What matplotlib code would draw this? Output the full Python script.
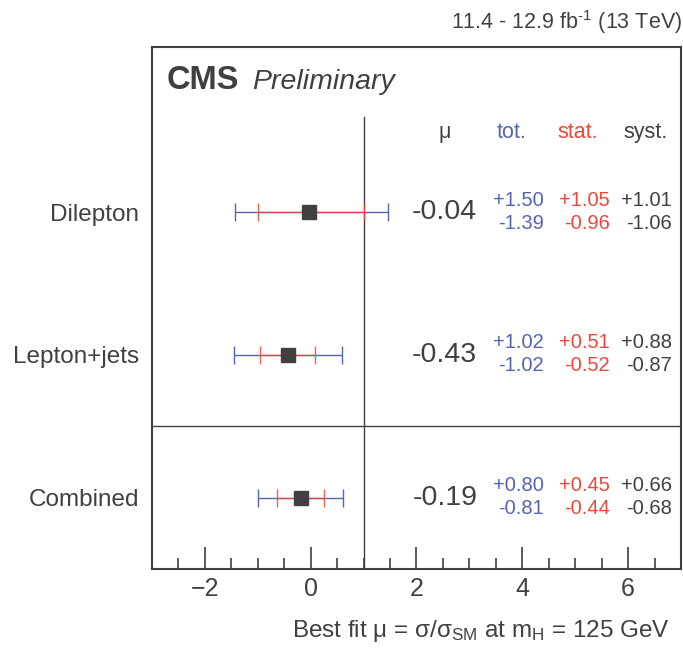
import matplotlib.pyplot as plt
from matplotlib.ticker import MultipleLocator

plt.rcParams['font.family'] = ['Liberation Sans', 'DejaVu Sans']
plt.rcParams['mathtext.fontset'] = 'custom'
plt.rcParams['mathtext.rm'] = 'Liberation Sans'
plt.rcParams['mathtext.it'] = 'Liberation Sans:italic'

# channels, bottom to top
channels = ['Combined', 'Lepton+jets', 'Dilepton']
mu = [-0.19, -0.43, -0.04]
tot_up = [0.80, 1.02, 1.50]
tot_dn = [0.81, 1.02, 1.39]
stat_up = [0.45, 0.51, 1.05]
stat_dn = [0.44, 0.52, 0.96]
syst_up = [0.66, 0.88, 1.01]
syst_dn = [0.68, 0.87, 1.06]

grey = '#404040'
blue = '#5563b5'
red = '#f0463a'

fig = plt.figure(figsize=(6.83, 6.51), dpi=100)
ax = fig.add_axes([0.2225, 0.126, 0.7745, 0.802])

ypos = [0.5, 1.5, 2.5]

ax.errorbar(mu, ypos, xerr=[tot_dn, tot_up], fmt='none', ecolor=blue,
            elinewidth=1.0, capsize=6.5, capthick=1.0, zorder=2)
ax.errorbar(mu, ypos, xerr=[stat_dn, stat_up], fmt='none', ecolor=red,
            elinewidth=1.0, capsize=6.5, capthick=1.0, zorder=3, alpha=0.85)
ax.plot(mu, ypos, 's', color=grey, markersize=10.5, zorder=4)

ax.axvline(1.0, ymin=0, ymax=3.17 / 3.66, color=grey, lw=1.0)
ax.axhline(1.0, color=grey, lw=1.0)

# numbers column
fs = 14.5
for y, m, tu, td, su, sd, yu, yd in zip(ypos, mu, tot_up, tot_dn, stat_up,
                                         stat_dn, syst_up, syst_dn):
    ax.text(3.15, y, f'{m:.2f}', ha='right', va='center', fontsize=20.5, color=grey)
    ax.text(4.41, y + 0.085, f'+{tu:.2f}', ha='right', va='center', fontsize=fs, color=blue)
    ax.text(4.41, y - 0.075, f'-{td:.2f}', ha='right', va='center', fontsize=fs, color=blue)
    ax.text(5.65, y + 0.085, f'+{su:.2f}', ha='right', va='center', fontsize=fs, color=red)
    ax.text(5.65, y - 0.075, f'-{sd:.2f}', ha='right', va='center', fontsize=fs, color=red)
    ax.text(6.83, y + 0.085, f'+{yu:.2f}', ha='right', va='center', fontsize=fs, color=grey)
    ax.text(6.83, y - 0.075, f'-{yd:.2f}', ha='right', va='center', fontsize=fs, color=grey)

# header
hy = 3.06
ax.text(2.53, hy, 'μ', ha='center', va='center', fontsize=15.5, color=grey)
ax.text(3.80, hy, 'tot.', ha='center', va='center', fontsize=15.5, color=blue)
ax.text(5.04, hy, 'stat.', ha='center', va='center', fontsize=15.5, color=red)
ax.text(6.33, hy, 'syst.', ha='center', va='center', fontsize=15.5, color=grey)

ax.text(0.027, 0.92, 'CMS', transform=ax.transAxes, fontsize=23.5, fontweight='bold',
        color=grey, va='baseline')
ax.text(0.19, 0.92, 'Preliminary', transform=ax.transAxes, fontsize=20.5, style='italic',
        color=grey, va='baseline')

ax.set_xlim(-3, 7)
ax.set_ylim(0, 3.66)
ax.set_yticks(ypos)
ax.set_yticklabels(channels, fontsize=17.5, color=grey)
ax.tick_params(axis='y', length=0, pad=9)

ax.xaxis.set_major_locator(MultipleLocator(2))
ax.xaxis.set_minor_locator(MultipleLocator(0.5))
ax.tick_params(axis='x', which='major', direction='in', length=16, width=1.2,
               color=grey, labelsize=18, labelcolor=grey, pad=6)
ax.tick_params(axis='x', which='minor', direction='in', length=8, width=1.2, color=grey)
for s in ax.spines.values():
    s.set_color(grey)
    s.set_linewidth(1.5)

fig.text(0.981, 0.0215, r'Best fit μ = σ/σ$_{\rm SM}$ at m$_{\rm H}$ = 125 GeV',
         ha='right', va='baseline', fontsize=17.5, color=grey)
fig.text(0.998, 0.955, r'11.4 - 12.9 fb$^{\text{-1}}$ (13 TeV)', ha='right',
         va='baseline', fontsize=15.5, color=grey)

fig.savefig('out.png', dpi=100)
